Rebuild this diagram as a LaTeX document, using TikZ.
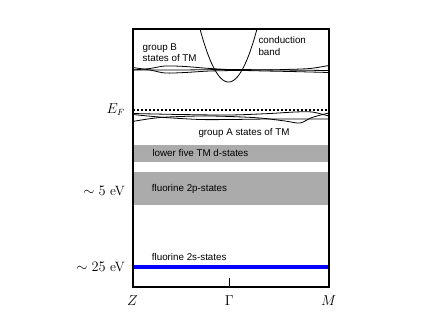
\documentclass[tikz,border=0pt]{standalone}
\usepackage{amsmath}
\usepackage{fontspec}
\setsansfont{Liberation Sans}

\begin{document}
\begin{tikzpicture}[x=1pt, y=-1pt,
    lbl/.style={font=\sffamily\fontsize{9.8}{11.5}\selectfont, inner sep=0pt, anchor=west, align=left},
    axlbl/.style={font=\fontsize{13.5}{15}\selectfont, inner sep=0pt},
    bandline/.style={line width=0.8pt, smooth}]

  \useasboundingbox (0,0) rectangle (427,320);

  % Shaded bands (TM d-states and fluorine 2p)
  \fill[black!33] (132.5,145) rectangle (328.7,162);
  \fill[black!33] (132.5,171.7) rectangle (328.7,204.7);

  % Fluorine 2s level
  \draw[blue, line width=4pt] (132.5,267) -- (328.7,267);

  % Fermi level
  \draw[line width=1.3pt, dash pattern=on 2.5pt off 1.5pt] (132.5,110) -- (328.7,110);

  % Group B bands
  \draw[bandline] plot coordinates {(132.5,67.5) (150,70) (165,73) (185,72.5) (210,71) (240,70.5) (265,71) (290,71.5) (310,72) (328.7,72.5)};
  \draw[bandline] plot coordinates {(132.5,70) (150,68.5) (165,66) (185,66.5) (210,68.5) (240,70) (265,70) (285,69.5) (310,68.5) (328.7,65.5)};
  \draw[bandline] plot coordinates {(132.5,70) (180,70) (230,69.5) (280,70) (328.7,70.5)};

  % Group A bands
  \draw[bandline] plot coordinates {(132.5,113.5) (180,114.5) (230,115) (270,113.5) (295,112) (312,112) (328.7,116)};
  \draw[bandline] plot coordinates {(132.5,121.5) (160,117.5) (200,116) (230,116.5) (260,118) (285,121) (300,123) (312,117.5) (328.7,113)};
  \draw[bandline] plot coordinates {(132.5,114.5) (165,117.5) (200,119.5) (230,119.5) (270,119) (310,119) (328.7,119)};

  % Conduction band
  \begin{scope}
    \clip (132.5,29) rectangle (328.7,286.7);
    \draw[line width=0.8pt, domain=195:262, samples=100]
      plot (\x, {82 - 0.0653*(\x-228.5)^2});
  \end{scope}

  % Frame and tick
  \draw[line width=2pt] (132.5,29) rectangle (328.7,286.7);
  \draw[line width=0.8pt] (229.3,286.7) -- (229.3,278);

  % Band labels
  \node[lbl] (groupB) at (142.5,52.5) {group B\\states of TM};
  \node[lbl] (cband) at (258.3,46.2) {conduction\\band};
  \node[lbl] (groupA) at (198.3,133) {group A states of TM};
  \node[lbl] (tmd) at (152.3,153.3) {lower five TM d-states};
  \node[lbl] (ftwop) at (151.7,189) {fluorine 2p-states};
  \node[lbl] (ftwos) at (151.7,256.7) {fluorine 2s-states};

  % Energy labels
  \node[axlbl, anchor=east] (ef) at (125,110) {$E_F$};
  \node[axlbl, anchor=east] (five) at (125,191.5) {$\sim 5$ eV};
  \node[axlbl, anchor=east] (twentyfive) at (125,267) {$\sim 25$ eV};

  % k-points
  \node[axlbl] (kz) at (132.5,300.5) {$Z$};
  \node[axlbl] (kg) at (229.3,300.5) {$\Gamma$};
  \node[axlbl] (km) at (328.7,300.5) {$M$};

\end{tikzpicture}
\end{document}
